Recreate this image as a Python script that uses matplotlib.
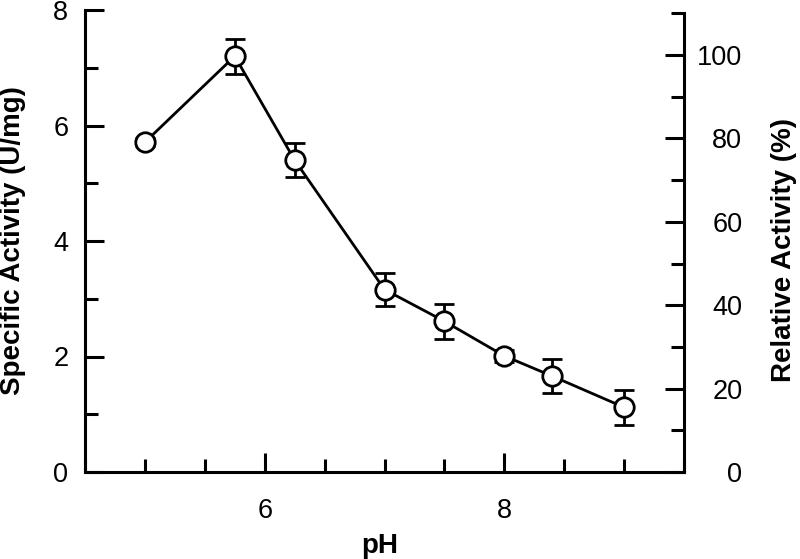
import numpy as np
import matplotlib
matplotlib.use('Agg')
import matplotlib.pyplot as plt
from matplotlib.ticker import MultipleLocator

plt.rcParams['font.family'] = ['Liberation Sans', 'DejaVu Sans']

# data
pH = [5.0, 5.75, 6.25, 7.0, 7.5, 8.0, 8.4, 9.0]
activity = [5.71, 7.20, 5.40, 3.16, 2.61, 2.01, 1.66, 1.12]   # U/mg
activity_err = [0.07, 0.30, 0.30, 0.29, 0.30, 0.10, 0.29, 0.30]
max_activity = 7.22  # 100 % on the right axis

ticksize = 19.5
labelsize = 20
lw = 2.2

fig = plt.figure(figsize=(8, 5.59), dpi=100)
ax1 = fig.add_axes([85/800, 1-472/559, (684-85)/800, (472-10)/559])

ax1.errorbar(pH, activity, yerr=activity_err, color='k', linewidth=2,
             marker='o', markersize=14, markerfacecolor='white',
             markeredgecolor='k', markeredgewidth=2,
             ecolor='k', elinewidth=2, capsize=7.5, capthick=2.2, zorder=3)

ax1.set_xlim(4.5, 9.5)
ax1.set_ylim(0, 8)
ax1.xaxis.set_major_locator(MultipleLocator(2))
ax1.xaxis.set_minor_locator(MultipleLocator(0.5))
ax1.yaxis.set_major_locator(MultipleLocator(2))
ax1.yaxis.set_minor_locator(MultipleLocator(1))

ax1.spines['top'].set_visible(False)
ax1.spines['right'].set_visible(False)
for s in ['left', 'bottom']:
    ax1.spines[s].set_linewidth(lw)

ax1.tick_params(which='both', direction='in', width=lw, labelsize=ticksize)
ax1.tick_params(which='major', length=14)
ax1.tick_params(which='minor', length=9.5)
ax1.tick_params(axis='x', which='major', pad=19)
ax1.tick_params(axis='y', which='major', pad=12)

# right axis (relative activity)
ax2 = ax1.twinx()
ax2.set_ylim(0, 8*100/max_activity)
ax2.yaxis.set_major_locator(MultipleLocator(20))
ax2.yaxis.set_minor_locator(MultipleLocator(10))
ax2.set_yticks(np.arange(0, 101, 20))
ax2.set_yticks(np.arange(10, 111, 20), minor=True)
for s in ['top', 'left', 'bottom']:
    ax2.spines[s].set_visible(False)
ax2.spines['right'].set_linewidth(lw)
ax2.spines['right'].set_bounds(0, 110)
ax2.tick_params(which='both', direction='in', width=lw, labelsize=ticksize)
ax2.tick_params(which='major', length=14, pad=42)
ax2.tick_params(which='minor', length=9.5)
for lab in ax2.get_yticklabels():
    lab.set_horizontalalignment('right')

# axis labels
ax1.set_xlabel('pH', fontsize=labelsize, fontweight='bold')
ax1.xaxis.set_label_coords((380-85)/599, (472-546)/462)
ax1.xaxis.label.set_verticalalignment('center')

ax1.set_ylabel('Specific Activity (U/mg)', fontsize=labelsize, fontweight='bold')
ax1.yaxis.label.set_verticalalignment('center')
ax1.yaxis.set_label_coords((13-85)/599, 0.5)

ax2.set_ylabel('Relative Activity (%)', fontsize=labelsize, fontweight='bold',
               rotation=90)
ax2.yaxis.label.set_verticalalignment('center')
ax2.yaxis.set_label_coords((784-85)/599, (472-250)/462)

plt.savefig('out.png', dpi=100)
